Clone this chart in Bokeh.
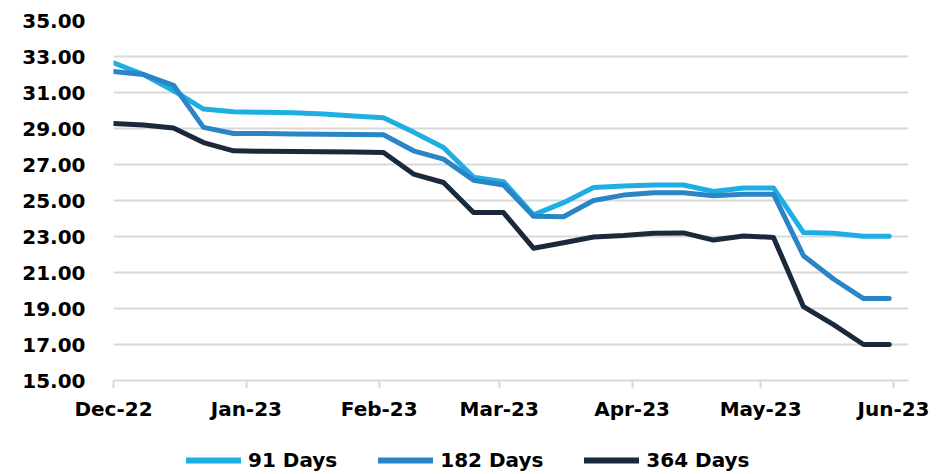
from datetime import datetime, timedelta
from bokeh.plotting import figure
from bokeh.layouts import column
from bokeh.models import (Range1d, FixedTicker, PrintfTickFormatter, DatetimeTickFormatter,
                          Legend, LegendItem, ColumnDataSource)
from bokeh.embed import file_html
from bokeh.resources import INLINE

# ---- data ----
start = datetime(2022, 12, 1)
dates = [start + timedelta(days=7 * k) for k in range(26)] + [datetime(2023, 5, 31)]

days_91 = [32.65, 32.0, 31.1, 30.08, 29.93, 29.9, 29.88, 29.8, 29.7, 29.6,
           28.8, 27.94, 26.3, 26.05, 24.2, 24.88, 25.72, 25.8, 25.86, 25.86,
           25.5, 25.7, 25.7, 23.22, 23.18, 23.02, 23.02]
days_182 = [32.17, 32.0, 31.4, 29.06, 28.72, 28.72, 28.7, 28.68, 28.66, 28.65,
            27.76, 27.3, 26.13, 25.86, 24.12, 24.1, 25.0, 25.3, 25.43, 25.43,
            25.26, 25.35, 25.35, 21.93, 20.64, 19.55, 19.55]
days_364 = [29.28, 29.2, 29.03, 28.22, 27.76, 27.73, 27.72, 27.71, 27.7, 27.67,
            26.47, 26.0, 24.33, 24.33, 22.35, 22.65, 22.97, 23.05, 23.18, 23.2,
            22.8, 23.03, 22.95, 19.1, 18.1, 17.0, 17.0]

series_names = ["91 Days", "182 Days", "364 Days"]
series_colors = ["#1FAEE4", "#2A85C7", "#1B2A3A"]

y_ticks = [15, 17, 19, 21, 23, 25, 27, 29, 31, 33, 35]
x_tick_dates = [datetime(2022, 12, 1), datetime(2023, 1, 1), datetime(2023, 2, 1),
                datetime(2023, 3, 1), datetime(2023, 4, 1), datetime(2023, 5, 1),
                datetime(2023, 6, 1)]

FONT = "DejaVu Sans"

p = figure(width=938, height=440, output_backend="svg", toolbar_location=None,
           x_axis_type="datetime",
           x_range=Range1d(datetime(2022, 12, 1), datetime(2023, 6, 4, 12)),
           y_range=Range1d(15, 35),
           min_border_left=113, min_border_right=30, min_border_top=20,
           min_border_bottom=60)
p.title.visible = False
p.outline_line_color = None
p.background_fill_color = "white"
p.border_fill_color = "white"

src = ColumnDataSource(dict(x=dates, a=days_91, b=days_182, c=days_364))
for col, color in zip(["a", "b", "c"], series_colors):
    p.line("x", col, source=src, line_color=color, line_width=5,
           line_join="round", line_cap="round")

# y axis
p.yaxis.ticker = FixedTicker(ticks=y_ticks)
p.yaxis.formatter = PrintfTickFormatter(format="%.2f")
p.yaxis.axis_line_color = None
p.yaxis.major_tick_line_color = None
p.yaxis.minor_tick_line_color = None
p.yaxis.major_tick_out = 0
p.yaxis.major_tick_in = 0
p.yaxis.major_label_standoff = 28
p.yaxis.major_label_text_font = FONT
p.yaxis.major_label_text_font_style = "bold"
p.yaxis.major_label_text_font_size = "20px"
p.yaxis.major_label_text_color = "#000000"

# x axis
p.xaxis.ticker = FixedTicker(ticks=[d.timestamp() * 1000 for d in x_tick_dates])
p.xaxis.formatter = DatetimeTickFormatter(days="%b-%y", months="%b-%y", years="%b-%y",
                                          hours="%b-%y", minutes="%b-%y")
p.xaxis.axis_line_color = "#D9D9D9"
p.xaxis.axis_line_width = 2
p.xaxis.major_tick_line_color = "#D9D9D9"
p.xaxis.major_tick_line_width = 2
p.xaxis.major_tick_in = 0
p.xaxis.major_tick_out = 8
p.xaxis.minor_tick_line_color = None
p.xaxis.major_label_standoff = 8
p.xaxis.major_label_text_font = FONT
p.xaxis.major_label_text_font_style = "bold"
p.xaxis.major_label_text_font_size = "20px"
p.xaxis.major_label_text_color = "#000000"

# grid
p.xgrid.grid_line_color = None
p.ygrid.grid_line_color = "#D9D9D9"
p.ygrid.grid_line_width = 2

# ---- legend strip below the chart (series drawn off-range, only the legend shows) ----
lg = figure(width=938, height=34, output_backend="svg", toolbar_location=None,
            x_range=Range1d(0, 1), y_range=Range1d(0, 1),
            x_axis_location=None, y_axis_location=None,
            min_border_left=0, min_border_right=0, min_border_top=0, min_border_bottom=0)
lg.title.visible = False
lg.outline_line_color = None
lg.xgrid.grid_line_color = None
lg.ygrid.grid_line_color = None
legend_renderers = [lg.line("x", col, source=src, line_color=c, line_width=6, line_cap="round")
                    for col, c in zip(["a", "b", "c"], series_colors)]

legend = Legend(items=[LegendItem(label=n, renderers=[r])
                       for n, r in zip(series_names, legend_renderers)],
                orientation="horizontal", location=(73, 2))
legend.border_line_color = None
legend.background_fill_alpha = 0
legend.padding = 0
legend.margin = 0
legend.spacing = 41
legend.glyph_width = 55
legend.glyph_height = 20
legend.label_standoff = 7
legend.label_text_font = FONT
legend.label_text_font_style = "bold"
legend.label_text_font_size = "20px"
legend.label_text_color = "#000000"
lg.add_layout(legend, "center")

layout = column(p, lg, spacing=0)
open("out.html", "w").write(file_html(layout, INLINE))
